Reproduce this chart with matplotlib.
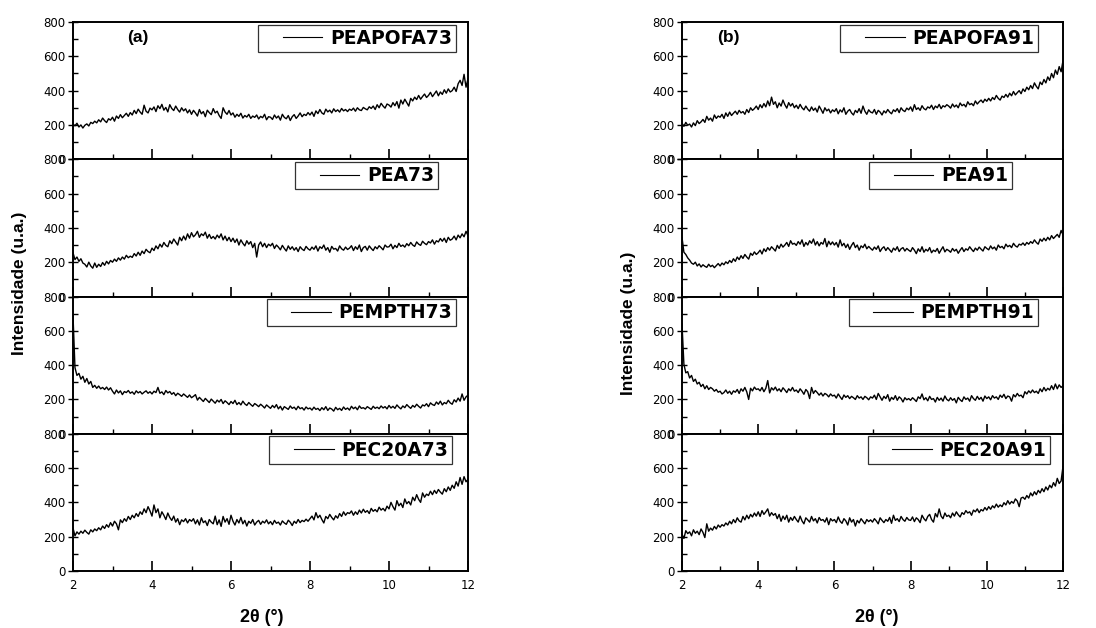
import numpy as np
import matplotlib
matplotlib.use("Agg")
import matplotlib.pyplot as plt
from matplotlib.ticker import MultipleLocator
from matplotlib.legend_handler import HandlerLine2D

# 2-theta scan, 2 to 12 degrees, 0.05 step
theta_start, theta_end = 2, 12

peapofa73 = [
    205, 195, 210, 188, 200, 182, 198, 206, 194, 215, 208, 222, 212, 230, 218, 240, 225, 214, 236, 228,
    245, 222, 252, 238, 260, 242, 255, 268, 250, 272, 258, 285, 266, 292, 275, 262, 315, 280, 270, 298,
    288, 305, 278, 312, 295, 320, 286, 302, 276, 318, 296, 284, 310, 290, 275, 300, 282, 294, 270, 288,
    262, 285, 270, 252, 290, 265, 278, 248, 286, 272, 260, 295, 270, 280, 255, 238, 300, 275, 262, 284,
    258, 270, 245, 262, 250, 268, 240, 255, 246, 262, 238, 252, 244, 258, 235, 250, 242, 262, 230, 248,
    245, 232, 258, 240, 252, 228, 262, 244, 236, 255, 226, 248, 260, 238, 252, 270, 248, 262, 255, 272,
    258, 275, 250, 282, 266, 290, 270, 262, 292, 276, 286, 270, 294, 278, 288, 275, 296, 282, 290, 278,
    292, 285, 298, 280, 300, 288, 284, 302, 294, 288, 306, 296, 310, 290, 318, 300, 326, 310, 298, 322,
    316, 304, 330, 312, 336, 298, 345, 322, 350, 330, 310, 355, 340, 362, 348, 372, 350, 366, 380, 360,
    372, 390, 365, 382, 398, 370, 392, 378, 405, 385, 410, 392, 400, 420, 395, 440, 460, 430, 495, 420,
    470,
]

pea73 = [
    255, 215, 230, 205, 220, 195, 188, 172, 200, 178, 165, 195, 170, 188, 175, 198, 182, 205, 190, 210,
    200, 218, 205, 225, 212, 230, 218, 240, 226, 235, 228, 250, 236, 258, 240, 265, 250, 275, 262, 255,
    282, 268, 295, 278, 305, 288, 315, 298, 290, 325, 308, 335, 318, 300, 345, 325, 352, 330, 365, 340,
    372, 348, 360, 380, 345, 365, 355, 375, 340, 362, 338, 350, 335, 358, 342, 365, 330, 352, 325, 345,
    320, 340, 315, 335, 300, 330, 310, 295, 325, 305, 320, 285, 310, 230, 300, 318, 290, 310, 285, 305,
    295, 310, 280, 300, 288, 272, 298, 280, 265, 295, 275, 290, 270, 285, 262, 290, 276, 268, 292, 278,
    270, 288, 275, 295, 265, 290, 280, 300, 270, 285, 258, 292, 276, 280, 265, 295, 278, 270, 288, 274,
    282, 296, 268, 290, 275, 300, 262, 285, 292, 270, 295, 280, 268, 290, 278, 296, 285, 272, 300, 288,
    290, 305, 278, 298, 285, 310, 292, 300, 288, 308, 296, 315, 300, 292, 318, 305, 298, 322, 310, 302,
    320, 312, 330, 305, 325, 318, 338, 322, 340, 315, 345, 328, 335, 352, 330, 358, 342, 365, 348, 380,
    355,
]

pempth73 = [
    690, 385, 340, 352, 318, 335, 300, 322, 290, 305, 270, 282, 265, 278, 262, 270, 258, 272, 255, 268,
    248, 232, 255, 238, 250, 228, 246, 240, 252, 236, 244, 230, 250, 238, 246, 232, 242, 250, 236, 245,
    232, 248, 240, 270, 236, 244, 228, 252, 238, 246, 230, 240, 222, 236, 228, 218, 232, 222, 212, 226,
    210, 218, 228, 196, 212, 200, 188, 206, 194, 182, 202, 190, 178, 196, 185, 200, 176, 192, 182, 170,
    188, 176, 195, 170, 182, 168, 190, 174, 165, 182, 170, 160, 176, 168, 158, 172, 162, 150, 168, 158,
    148, 165, 152, 170, 145, 160, 138, 158, 150, 142, 162, 148, 155, 140, 160, 146, 152, 138, 156, 145,
    150, 138, 155, 142, 148, 135, 152, 140, 158, 136, 150, 144, 132, 154, 140, 148, 136, 156, 142, 150,
    138, 160, 146, 155, 140, 162, 148, 152, 144, 158, 150, 142, 160, 148, 155, 146, 162, 150, 158, 145,
    165, 150, 160, 148, 168, 155, 145, 162, 152, 170, 158, 148, 165, 155, 172, 160, 150, 168, 162, 175,
    158, 180, 170, 165, 185, 172, 190, 168, 182, 175, 195, 180, 172, 198, 185, 208, 190, 232, 195, 215,
    225,
]

pec20a73 = [
    250, 205, 228, 215, 232, 220, 238, 225, 215, 240, 228, 245, 235, 252, 240, 262, 248, 270, 255, 282,
    262, 290, 275, 240, 298, 282, 305, 290, 318, 300, 325, 310, 335, 318, 345, 330, 362, 340, 375, 350,
    320, 385, 340, 362, 310, 345, 325, 300, 338, 312, 295, 320, 285, 305, 270, 298, 288, 305, 280, 300,
    290, 305, 275, 298, 268, 310, 282, 292, 265, 300, 285, 275, 320, 270, 298, 260, 318, 285, 305, 272,
    325, 290, 268, 300, 280, 312, 275, 295, 262, 290, 278, 300, 268, 285, 295, 272, 290, 280, 298, 275,
    288, 270, 295, 278, 285, 268, 292, 280, 272, 296, 284, 265, 290, 278, 300, 282, 295, 288, 302, 290,
    305, 320, 298, 340, 310, 325, 300, 280, 318, 305, 330, 312, 298, 322, 308, 335, 318, 345, 325, 340,
    335, 350, 325, 345, 330, 355, 338, 360, 342, 352, 335, 365, 348, 358, 345, 372, 355, 365, 350, 378,
    362, 400, 375, 355, 410, 380, 395, 370, 420, 392, 405, 385, 430, 410, 445, 418, 400, 455, 430, 448,
    440, 465, 445, 470, 452, 475, 460, 448, 480, 462, 490, 470, 500, 482, 520, 495, 545, 505, 550, 520,
    535,
]

peapofa91 = [
    210, 192, 215, 198, 205, 188, 212, 196, 225, 208, 218, 232, 215, 250, 228, 240, 222, 258, 238, 252,
    245, 262, 238, 270, 250, 275, 255, 268, 280, 262, 285, 270, 278, 262, 290, 272, 300, 285, 295, 310,
    290, 318, 300, 325, 305, 340, 312, 362, 320, 335, 300, 328, 310, 345, 318, 298, 330, 310, 325, 300,
    315, 295, 320, 300, 288, 310, 292, 280, 305, 285, 298, 275, 310, 290, 268, 300, 282, 292, 270, 288,
    278, 295, 265, 288, 275, 300, 262, 280, 290, 270, 258, 285, 272, 295, 268, 310, 280, 262, 288, 275,
    270, 290, 262, 285, 275, 258, 282, 270, 290, 275, 265, 288, 278, 295, 272, 300, 285, 278, 298, 288,
    305, 280, 318, 290, 300, 285, 312, 295, 288, 305, 298, 315, 290, 310, 300, 320, 295, 312, 305, 318,
    310, 298, 322, 305, 316, 300, 328, 312, 320, 305, 335, 318, 325, 312, 340, 322, 335, 345, 330, 350,
    338, 355, 340, 360, 348, 372, 355, 345, 368, 360, 378, 362, 385, 370, 395, 375, 388, 400, 382, 410,
    395, 420, 405, 430, 412, 445, 425, 410, 450, 435, 465, 445, 480, 460, 500, 475, 520, 495, 540, 510,
    575,
]

pea91 = [
    345, 258, 245, 225, 212, 195, 188, 200, 178, 190, 172, 185, 176, 170, 188, 174, 182, 168, 180, 192,
    178, 195, 185, 202, 192, 210, 198, 220, 205, 230, 215, 238, 222, 245, 230, 218, 252, 240, 260, 245,
    255, 270, 248, 278, 262, 285, 270, 290, 278, 265, 298, 280, 305, 288, 300, 315, 292, 325, 305, 310,
    298, 320, 305, 330, 292, 315, 300, 325, 310, 335, 300, 320, 295, 315, 305, 338, 290, 322, 302, 318,
    300, 315, 288, 330, 295, 310, 285, 305, 275, 298, 315, 285, 300, 270, 295, 285, 305, 278, 292, 280,
    270, 288, 275, 295, 262, 280, 290, 268, 285, 272, 258, 282, 270, 290, 262, 278, 285, 265, 280, 270,
    262, 285, 270, 250, 278, 262, 290, 258, 275, 265, 285, 255, 270, 262, 280, 252, 272, 290, 260, 275,
    268, 258, 280, 265, 275, 252, 270, 285, 262, 278, 270, 290, 275, 262, 282, 270, 288, 276, 265, 290,
    280, 272, 295, 278, 288, 270, 300, 285, 292, 278, 305, 290, 298, 285, 310, 295, 288, 305, 300, 312,
    298, 315, 305, 320, 310, 330, 315, 305, 335, 322, 340, 325, 345, 330, 355, 338, 350, 362, 345, 385,
    360,
]

pempth91 = [
    640, 405, 355, 362, 325, 340, 305, 318, 290, 300, 275, 288, 262, 280, 258, 270, 262, 248, 258, 242,
    248, 232, 240, 255, 236, 248, 230, 250, 242, 258, 235, 262, 248, 270, 244, 200, 265, 250, 272, 258,
    262, 250, 270, 245, 265, 310, 238, 268, 255, 272, 250, 262, 245, 268, 255, 240, 262, 250, 270, 248,
    255, 240, 262, 248, 230, 258, 245, 205, 270, 235, 252, 240, 225, 238, 220, 235, 228, 215, 232, 220,
    225, 208, 232, 215, 200, 226, 212, 222, 205, 218, 210, 200, 222, 208, 215, 200, 218, 210, 198, 215,
    208, 225, 200, 235, 215, 195, 218, 205, 228, 190, 212, 200, 222, 195, 215, 205, 185, 210, 198, 205,
    195, 210, 200, 188, 215, 205, 232, 198, 210, 192, 218, 200, 205, 185, 212, 195, 208, 190, 220, 200,
    192, 210, 195, 205, 180, 212, 198, 188, 215, 200, 208, 190, 222, 205, 195, 218, 200, 212, 190, 220,
    205, 215, 198, 222, 208, 215, 200, 225, 212, 230, 205, 220, 215, 190, 228, 215, 235, 220, 225, 210,
    245, 232, 250, 238, 255, 240, 248, 235, 262, 245, 270, 250, 265, 255, 280, 258, 290, 262, 285, 270,
    280,
]

pec20a91 = [
    215, 190, 235, 218, 228, 205, 240, 220, 232, 212, 245, 225, 195, 275, 232, 250, 238, 260, 245, 268,
    255, 270, 262, 280, 268, 290, 275, 300, 282, 310, 292, 285, 318, 298, 325, 305, 330, 315, 338, 320,
    345, 318, 352, 330, 345, 362, 320, 340, 325, 335, 305, 330, 290, 320, 300, 325, 285, 312, 295, 318,
    300, 285, 320, 292, 275, 310, 298, 285, 318, 292, 305, 280, 312, 295, 300, 285, 310, 270, 305, 292,
    300, 282, 315, 290, 278, 305, 292, 268, 310, 285, 300, 262, 295, 280, 305, 290, 275, 300, 288, 298,
    285, 305, 292, 275, 310, 295, 282, 300, 290, 312, 278, 325, 295, 305, 288, 318, 300, 290, 312, 298,
    295, 315, 288, 310, 300, 282, 325, 305, 292, 318, 330, 300, 285, 335, 315, 362, 320, 305, 338, 318,
    325, 310, 338, 320, 345, 328, 315, 340, 330, 352, 338, 345, 325, 355, 345, 362, 340, 358, 350, 370,
    355, 375, 360, 380, 368, 390, 372, 385, 375, 398, 385, 410, 390, 405, 395, 420, 408, 375, 425, 430,
    418, 440, 425, 455, 438, 462, 445, 470, 455, 480, 462, 490, 472, 500, 485, 515, 495, 540, 510, 525,
    610,
]

left_series = [peapofa73, pea73, pempth73, pec20a73]
left_names = ["PEAPOFA73", "PEA73", "PEMPTH73", "PEC20A73"]
right_series = [peapofa91, pea91, pempth91, pec20a91]
right_names = ["PEAPOFA91", "PEA91", "PEMPTH91", "PEC20A91"]

W, H = 1096, 628
fig = plt.figure(figsize=(W / 100, H / 100), dpi=100)


class ShortLine(HandlerLine2D):
    # Origin-style legend: short sample line pushed to the right of the handle box
    def get_xdata(self, legend, xdescent, ydescent, width, height, fontsize):
        xd, xm = super().get_xdata(legend, xdescent, ydescent, width, height, fontsize)
        return np.array([-xdescent + width * 0.34, -xdescent + width]), xm


def panel(x0, x1, row, y, name, leg_x):
    top, bottom = 22, 571
    h = (bottom - top) / 4
    ax = fig.add_axes([x0 / W, 1 - (top + h * (row + 1)) / H, (x1 - x0) / W, h / H])
    x = np.linspace(theta_start, theta_end, len(y))
    ax.plot(x, y, color="black", lw=1.0, label=name)
    ax.set_xlim(theta_start, theta_end)
    ax.set_ylim(0, 800)
    ax.xaxis.set_major_locator(MultipleLocator(2))
    ax.xaxis.set_minor_locator(MultipleLocator(1))
    ax.yaxis.set_major_locator(MultipleLocator(200))
    ax.yaxis.set_minor_locator(MultipleLocator(100))
    ax.tick_params(axis="x", which="major", direction="in", length=7, width=1.2, pad=6)
    ax.tick_params(axis="x", which="minor", direction="in", length=3.5, width=1.0)
    ax.tick_params(axis="y", which="major", direction="inout", length=7, width=1.0, pad=2)
    ax.tick_params(axis="y", which="minor", direction="in", length=3.5, width=1.0)
    for s in ax.spines.values():
        s.set_linewidth(1.4)
    if row < 3:
        ax.tick_params(axis="x", labelbottom=False)
    for lab in ax.get_xticklabels() + ax.get_yticklabels():
        lab.set_fontfamily("DejaVu Sans")
        lab.set_fontsize(8.5)
    leg = ax.legend(loc="upper right", bbox_to_anchor=((leg_x - x0) / (x1 - x0), 0.98),
                    borderaxespad=0, frameon=True, fancybox=False, handlelength=3.2,
                    handletextpad=0.4, borderpad=0.22,
                    handler_map={ax.lines[0]: ShortLine()},
                    prop={"family": "DejaVu Sans", "weight": "bold", "size": 13.5})
    leg.get_frame().set_edgecolor("black")
    leg.get_frame().set_linewidth(0.9)
    for ln in leg.get_lines():
        ln.set_linewidth(0.8)
    return ax


left_leg = [456, 438, 456, 452]
right_leg = [1038, 1012, 1038, 1050]

for i in range(4):
    ax = panel(73, 468, i, left_series[i], left_names[i], left_leg[i])
    if i == 0:
        ax.text(0.163, 0.89, "(a)", transform=ax.transAxes, ha="center", va="center",
                fontsize=12.5, fontweight="bold", family="Liberation Sans")
for i in range(4):
    ax = panel(682, 1063, i, right_series[i], right_names[i], right_leg[i])
    if i == 0:
        ax.text(0.123, 0.89, "(b)", transform=ax.transAxes, ha="center", va="center",
                fontsize=12.5, fontweight="bold", family="Liberation Sans")

for xc, yc in ((20, 283), (628, 323)):
    fig.text(xc / W, 1 - yc / H, "Intensidade (u.a.)", rotation=90, ha="center", va="center",
             fontsize=12.5, fontweight="bold", family="Liberation Sans")
for xc in (262, 877):
    fig.text(xc / W, 1 - 618 / H, "2θ (°)", ha="center", va="center",
             fontsize=13, fontweight="bold", family="Liberation Sans")

fig.savefig("out.png", dpi=100)
